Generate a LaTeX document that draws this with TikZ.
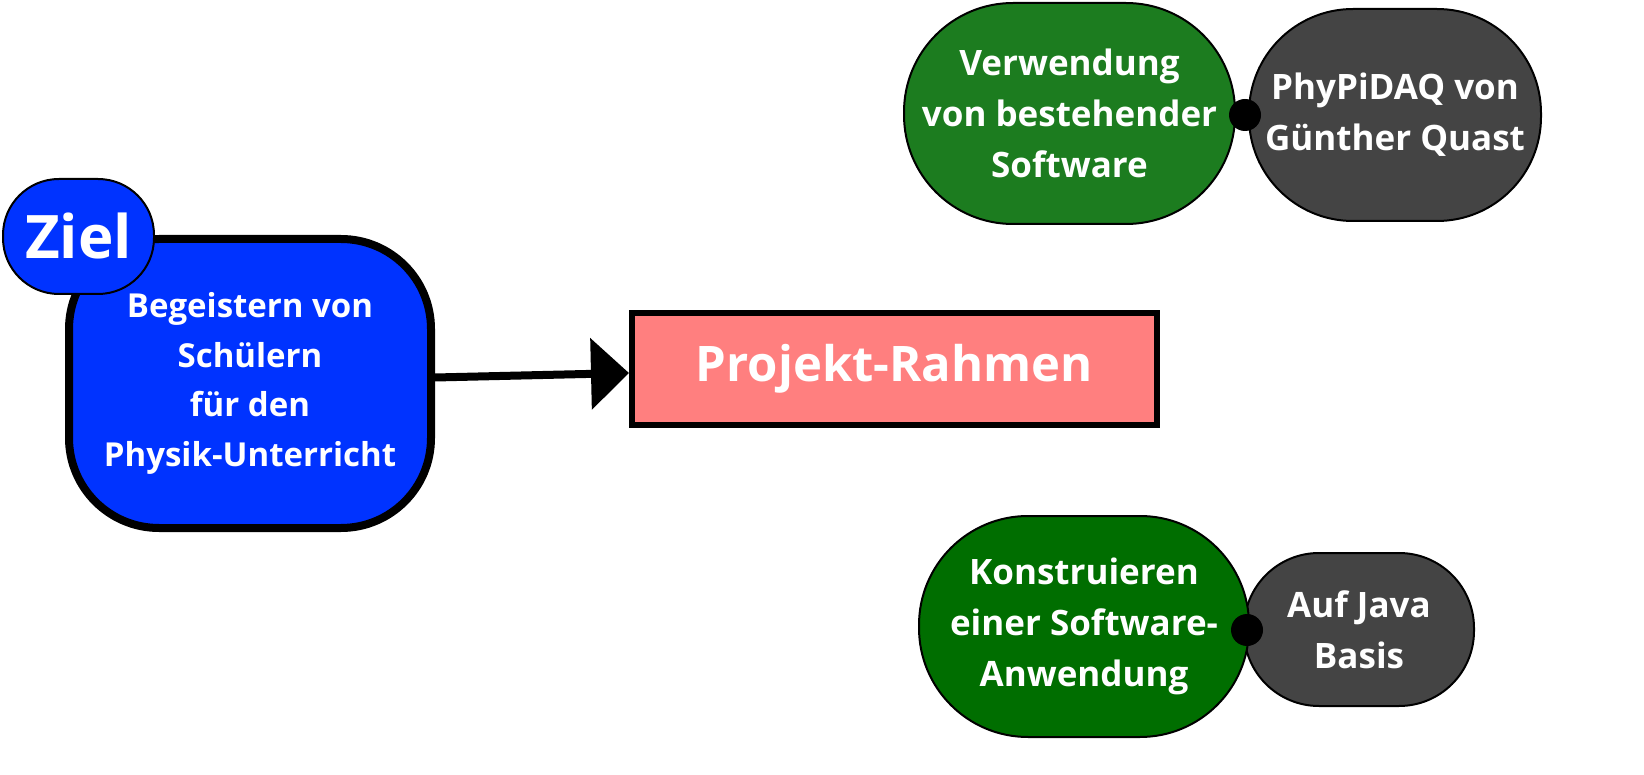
\documentclass[tikz,border=0pt]{standalone}
\usepackage{fontspec}
\setmainfont{Open Sans}
\usepackage{xcolor}
\usetikzlibrary{arrows.meta}
\definecolor{zielblue}{HTML}{0033FF}
\definecolor{rahmenred}{HTML}{FF7F7F}
\definecolor{usegreen}{HTML}{1C7C1F}
\definecolor{buildgreen}{HTML}{006E00}
\definecolor{notegray}{HTML}{444444}
\tikzset{
bubble/.style={draw=black, line width=2pt, text=white, align=center, inner sep=0pt,
    font=\bfseries\fontsize{35}{51}\selectfont},
joint/.style={circle, fill=black, minimum size=32pt, inner sep=0pt},
bigarrow/.style={line width=8pt, -{Triangle[length=38pt, width=70pt]}},
}

\begin{document}
\begin{tikzpicture}[x=1pt, y=-1pt]
		\useasboundingbox (0, 0) rectangle (1644, 775);
		\node [style=bubble, fill=zielblue, line width=8pt, minimum width=362pt, minimum height=289pt, rounded corners=90pt, font=\bfseries\fontsize{33}{49.5}\selectfont] (0) at (250, 383.5) {Begeistern von\\Schülern\\für den\\Physik-Unterricht};
		\node [style=bubble, fill=zielblue, minimum width=151pt, minimum height=115pt, rounded corners=56pt, font=\bfseries\fontsize{60}{70}\selectfont] (5) at (78.5, 236.5) {Ziel};
		\node [style=bubble, fill=rahmenred, line width=6pt, minimum width=525pt, minimum height=112pt, font=\bfseries\fontsize{49}{60}\selectfont] (1) at (894.5, 369) {Projekt-Rahmen};
		\node [style=bubble, fill=notegray, minimum width=292pt, minimum height=212pt, rounded corners=104pt] (3) at (1395, 115) {PhyPiDAQ von\\Günther Quast};
		\node [style=bubble, fill=usegreen, minimum width=331pt, minimum height=221pt, rounded corners=109pt] (2) at (1069.5, 113.5) {Verwendung\\von bestehender\\Software};
		\node [style=joint] (4) at (1245, 115) {};
		\node [style=bubble, fill=notegray, minimum width=230pt, minimum height=153pt, rounded corners=75pt] (7) at (1359, 629.5) {Auf Java\\Basis};
		\node [style=bubble, fill=buildgreen, minimum width=330pt, minimum height=221pt, rounded corners=109pt] (6) at (1084, 626.5) {Konstruieren\\einer Software-\\Anwendung};
		\node [style=joint] (8) at (1247, 630) {};
		\draw [style=bigarrow] ([yshift=6pt]0.east) to ([yshift=-4pt]1.west);
	\end{tikzpicture}
\end{document}
